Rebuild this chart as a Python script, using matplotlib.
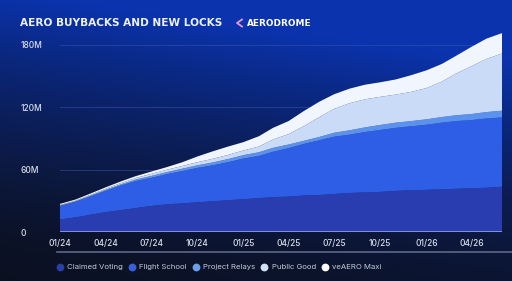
import numpy as np
import pandas as pd
import matplotlib
matplotlib.use("Agg")
import matplotlib.pyplot as plt
from matplotlib.lines import Line2D

# monthly values (millions), Jan 2024 - Jun 2026
months = pd.date_range("2024-01-01", periods=30, freq="MS")
claimed_voting = [12, 14, 16.5, 19, 21, 23, 25, 26.5, 27.5, 28.5, 29.5, 30.5, 31.5, 32.5, 33.5,
                  34, 35, 35.5, 36.5, 37.5, 38, 38.5, 39.5, 40, 40.5, 41, 41.5, 42, 42.5, 43.5]
flight_school = [13, 15, 17.5, 20.5, 23.5, 26, 27, 29, 31, 33, 34.5, 36.5, 39, 40.5, 43.5,
                 46.5, 49.5, 52.5, 55, 56, 58, 59.5, 60.5, 61.5, 62.5, 64, 65, 65.5, 66.5, 66.5]
project_relays = [0.5, 0.6, 0.8, 1, 1.2, 1.5, 1.8, 2, 2.3, 2.5, 2.8, 3, 3.3, 3.6, 3.8,
                  3.5, 3, 3.2, 3.8, 4.2, 4.5, 4.8, 5, 5, 5.2, 5.4, 5.6, 5.8, 6.2, 6.5]
public_good = [0.5, 0.6, 0.8, 1, 1.2, 1.5, 2, 2.3, 2.6, 3, 3.5, 4, 4.5, 5.5, 8,
               10, 14, 19, 23, 26, 27, 27, 27, 28, 30, 34, 40, 46, 51, 55]
veaero_maxi = [1, 1, 1.2, 1.4, 1.6, 1.8, 2.2, 2.5, 3.6, 5.5, 7.2, 8, 8, 9.9, 11.2,
               12.5, 14.5, 14.8, 14, 14, 14, 14, 14.5, 16, 17, 17, 17, 18.5, 19.5, 19.5]

labels = ["Claimed Voting", "Flight School", "Project Relays", "Public Good", "veAERO Maxi"]
colors = ["#2a3db0", "#2f5ee6", "#5a92ee", "#c9dbf7", "#f1f5fd"]
legend_colors = ["#2b3ea6", "#3a5fdc", "#6a9ee8", "#d2e1f8", "#ffffff"]
xtick_labels = ["01/24", "04/24", "07/24", "10/24", "01/25", "04/25", "07/25", "10/25", "01/26", "04/26"]

W, H = 512, 281
fig = plt.figure(figsize=(W / 100, H / 100), dpi=100)

# background gradient
bg = fig.add_axes([0, 0, 1, 1], zorder=-10)
yy, xx = np.mgrid[0:1:200j, 0:1:300j]
t = np.clip(0.95 * (1 - yy) ** 1.6 + 0.3 * xx * (1 - yy) + 0.12 * xx, 0, 1)
dark = np.array([0.047, 0.066, 0.13])
bright = np.array([0.04, 0.2, 0.68])
img = dark + (bright - dark) * t[..., None]
bg.imshow(img, aspect="auto", extent=[0, 1, 0, 1], origin="upper")
bg.axis("off")

ax = fig.add_axes([60 / W, 1 - 232 / H, 442 / W, 202 / H])
ax.set_facecolor("none")
ax.stackplot(months, claimed_voting, flight_school, project_relays, public_good, veaero_maxi,
             colors=colors, linewidth=0, zorder=3)

ax.set_ylim(0, 194)
ax.set_xlim(months[0], months[-1])
ax.set_yticks([0, 60, 120, 180])
ax.set_yticklabels(["0", "60M", "120M", "180M"])
ax.grid(axis="y", color="#3c5cb0", linewidth=0.6, alpha=0.55, zorder=1)
ax.axhline(0, color="#8fa2dc", linewidth=1.2, zorder=4)

ax.set_xticks(months[::3])
ax.set_xticklabels(xtick_labels)
for s in ax.spines.values():
    s.set_visible(False)
ax.tick_params(length=0, colors="#d8deec", labelsize=6)
ax.tick_params(axis="y", pad=28.5)
for lab in ax.get_yticklabels():
    lab.set_horizontalalignment("left")
ax.tick_params(axis="x", pad=5)
for lab in ax.get_xticklabels() + ax.get_yticklabels():
    lab.set_fontfamily("Inter")
    lab.set_fontweight("medium")

# separator line under x labels
fig.add_artist(Line2D([57 / W, 1], [1 - 252 / H] * 2, color="#5f6788", linewidth=1.2))

# title and logo
fig.text(20 / W, 1 - 23 / H, "AERO BUYBACKS AND NEW LOCKS", color="#eef1fb",
         fontsize=7.6, fontweight="bold", family="DejaVu Sans", va="center")
fig.add_artist(Line2D([242 / W, 237 / W, 242 / W], [1 - 19.5 / H, 1 - 23 / H, 1 - 26.5 / H],
                      color="#e59ad8", linewidth=1.3))
fig.text(247 / W, 1 - 23 / H, "AERODROME", color="white", fontsize=6.4,
         fontweight="heavy", family="DejaVu Sans", va="center")

# legend
handles = [Line2D([], [], marker="o", linestyle="", markersize=4.6, markerfacecolor=c,
                  markeredgecolor=c) for c in legend_colors]
leg = fig.legend(handles, labels, ncol=5, loc="center left",
                 bbox_to_anchor=(48 / W, 1 - 267 / H), frameon=False,
                 handletextpad=0.35, columnspacing=0.55, handlelength=1.2,
                 prop={"family": "Inter", "size": 5.6})
for txt in leg.get_texts():
    txt.set_color("#c3cad9")

fig.savefig("out.png", dpi=100)
